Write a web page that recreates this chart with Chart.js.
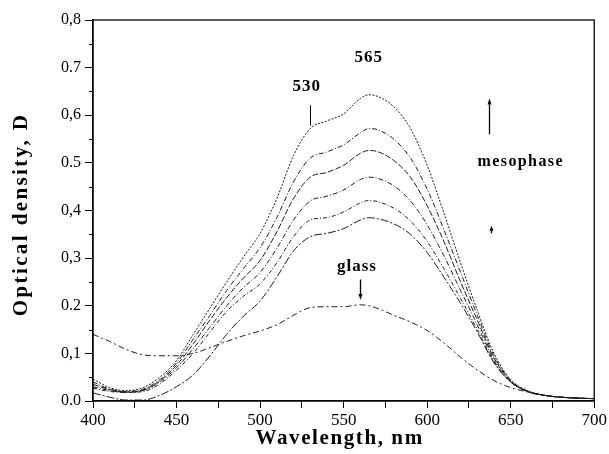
<!DOCTYPE html>
<html>
<head>
<meta charset="utf-8">
<script src="https://cdn.jsdelivr.net/npm/chart.js@4/dist/chart.umd.min.js"></script>
<style>
  html, body { margin: 0; padding: 0; background: #fff; }
  #wrap { width: 609px; height: 454px; }
</style>
</head>
<body>
<div id="wrap"><canvas id="spectra"></canvas></div>
<script>
const wavelengths = [400, 410, 420, 430, 440, 450, 460, 470, 480, 490, 500, 510, 520, 530, 540, 550,
  560, 565, 570, 580, 590, 600, 610, 620, 630, 640, 650, 660, 670, 680, 690, 700];

// mesophase spectra, highest to lowest
const meso1 = [0.046, 0.028, 0.022, 0.028, 0.05, 0.085, 0.14, 0.195, 0.25, 0.302, 0.352, 0.425, 0.515, 0.572, 0.588, 0.603,
  0.635, 0.643, 0.64, 0.618, 0.572, 0.495, 0.395, 0.29, 0.19, 0.1, 0.045, 0.022, 0.012, 0.008, 0.006, 0.005];
const meso2 = [0.04, 0.025, 0.02, 0.025, 0.045, 0.08, 0.13, 0.18, 0.232, 0.278, 0.322, 0.385, 0.46, 0.51, 0.523, 0.538,
  0.563, 0.572, 0.57, 0.55, 0.51, 0.445, 0.36, 0.27, 0.18, 0.095, 0.043, 0.021, 0.012, 0.008, 0.006, 0.005];
const meso3 = [0.035, 0.024, 0.019, 0.023, 0.042, 0.075, 0.12, 0.17, 0.217, 0.258, 0.295, 0.355, 0.425, 0.47, 0.48, 0.495,
  0.52, 0.526, 0.524, 0.505, 0.47, 0.41, 0.335, 0.25, 0.17, 0.09, 0.042, 0.02, 0.012, 0.008, 0.006, 0.005];
const meso4 = [0.03, 0.022, 0.018, 0.022, 0.04, 0.07, 0.11, 0.155, 0.2, 0.238, 0.27, 0.32, 0.38, 0.42, 0.43, 0.443,
  0.465, 0.47, 0.468, 0.452, 0.42, 0.37, 0.305, 0.232, 0.16, 0.085, 0.04, 0.02, 0.012, 0.008, 0.006, 0.005];
const meso5 = [0.027, 0.02, 0.018, 0.02, 0.036, 0.065, 0.1, 0.145, 0.188, 0.22, 0.246, 0.29, 0.345, 0.38, 0.385, 0.397,
  0.416, 0.421, 0.419, 0.405, 0.378, 0.335, 0.278, 0.215, 0.15, 0.082, 0.04, 0.02, 0.012, 0.008, 0.006, 0.005];
const meso6 = [0.017, 0.008, 0.002, 0.002, 0.012, 0.03, 0.055, 0.095, 0.14, 0.178, 0.21, 0.26, 0.315, 0.345, 0.352, 0.362,
  0.38, 0.385, 0.383, 0.372, 0.35, 0.312, 0.26, 0.205, 0.145, 0.08, 0.04, 0.02, 0.012, 0.008, 0.006, 0.005];
// glassy film
const glass = [0.14, 0.125, 0.108, 0.097, 0.095, 0.095, 0.1, 0.112, 0.125, 0.137, 0.147, 0.16, 0.18, 0.196, 0.198, 0.198,
  0.202, 0.2, 0.195, 0.18, 0.166, 0.148, 0.122, 0.092, 0.065, 0.043, 0.028, 0.019, 0.012, 0.008, 0.006, 0.005];

const yTickLabels = ["0.0", "0,1", "0.2", "0,3", "0,4", "0.5", "0,6", "0.7", "0,8"];
const xTickLabels = ["400", "450", "500", "550", "600", "650", "700"];

const serif = "'Liberation Serif', 'DejaVu Serif', serif";

function series(values, dash) {
  return {
    data: wavelengths.map((w, i) => ({ x: w, y: values[i] })),
    borderColor: "#1c1c1c",
    borderWidth: 1,
    borderDash: dash,
    pointRadius: 0,
    cubicInterpolationMode: "monotone",
    fill: false
  };
}

// frame, minor ticks, axis titles and the peak / phase labels
const extras = {
  id: "extras",
  afterDraw(chart) {
    const { ctx, chartArea: a, scales: { x, y } } = chart;
    ctx.save();
    ctx.strokeStyle = "#000";
    ctx.lineWidth = 1.3;
    ctx.strokeRect(a.left, a.top, a.right - a.left, a.bottom - a.top);

    // short ticks halfway between the labelled ones
    ctx.lineWidth = 1;
    for (let v = 0.05; v < 0.8; v += 0.1) {
      const py = Math.round(y.getPixelForValue(v)) + 0.5;
      ctx.beginPath();
      ctx.moveTo(a.left - 4, py);
      ctx.lineTo(a.left, py);
      ctx.stroke();
    }

    ctx.fillStyle = "#000";
    ctx.textAlign = "center";
    ctx.textBaseline = "middle";

    // axis titles, drawn wide like the printed originals
    ctx.font = "bold 21px " + serif;
    ctx.letterSpacing = "1.6px";
    ctx.fillText("Wavelength, nm", (a.left + a.right) / 2 - 4, 439);
    ctx.save();
    ctx.translate(22, (a.top + a.bottom) / 2 + 4);
    ctx.rotate(-Math.PI / 2);
    ctx.letterSpacing = "2.4px";
    ctx.fillText("Optical density, D", 0, 0);
    ctx.restore();

    ctx.font = "bold 17px " + serif;
    ctx.letterSpacing = "1px";
    ctx.fillText("530", x.getPixelForValue(528), y.getPixelForValue(0.66));
    ctx.fillText("565", x.getPixelForValue(565), y.getPixelForValue(0.722));
    ctx.fillText("glass", x.getPixelForValue(558), y.getPixelForValue(0.282));
    ctx.font = "bold 16px " + serif;
    ctx.letterSpacing = "1.4px";
    ctx.fillText("mesophase", x.getPixelForValue(656), y.getPixelForValue(0.503));
    ctx.letterSpacing = "0px";

    // marker under "530"
    ctx.lineWidth = 1;
    const m = Math.round(x.getPixelForValue(530)) + 0.5;
    ctx.beginPath();
    ctx.moveTo(m, y.getPixelForValue(0.621));
    ctx.lineTo(m, y.getPixelForValue(0.578));
    ctx.stroke();

    function arrow(px, y0, y1, head) {
      const dir = y1 < y0 ? 1 : -1;
      ctx.beginPath();
      ctx.moveTo(px, y0);
      ctx.lineTo(px, y1 + dir * head);
      ctx.stroke();
      ctx.beginPath();
      ctx.moveTo(px, y1);
      ctx.lineTo(px - 2, y1 + dir * head);
      ctx.lineTo(px + 2, y1 + dir * head);
      ctx.closePath();
      ctx.fill();
    }
    ctx.lineWidth = 1.3;
    const gx = Math.round(x.getPixelForValue(560)) + 0.5;
    arrow(gx, y.getPixelForValue(0.255), y.getPixelForValue(0.212), 6);
    const ux = Math.round(x.getPixelForValue(637)) + 0.5;
    arrow(ux, y.getPixelForValue(0.56), y.getPixelForValue(0.635), 6);
    const sx = Math.round(x.getPixelForValue(638.5)) + 0.5;
    arrow(sx, y.getPixelForValue(0.352), y.getPixelForValue(0.368), 5);
    ctx.restore();
  }
};

new Chart(document.getElementById("spectra"), {
  type: "line",
  data: {
    datasets: [
      series(meso1, [2, 1.5]),
      series(meso2, [5, 2, 1, 2]),
      series(meso3, [6, 2]),
      series(meso4, [5, 2, 1, 2]),
      series(meso5, [4, 2, 1, 2]),
      series(meso6, [8, 2, 2, 2]),
      series(glass, [6, 3, 2, 3])
    ]
  },
  options: {
    responsive: true,
    maintainAspectRatio: false,
    animation: false,
    events: [],
    layout: { padding: { top: 20, right: 14, left: 0, bottom: 0 } },
    plugins: { legend: { display: false }, tooltip: { enabled: false } },
    scales: {
      x: {
        type: "linear",
        min: 400,
        max: 700,
        afterFit: s => { s.height = 53; },
        border: { color: "#000", width: 1.3 },
        grid: { drawOnChartArea: false, drawTicks: true, tickLength: 7, color: "#000" },
        ticks: {
          stepSize: 25,
          maxRotation: 0,
          autoSkip: false,
          padding: 2,
          color: "#000",
          font: { family: serif, size: 17 },
          callback: v => (v % 50 === 0 ? xTickLabels[(v - 400) / 50] : "")
        }
      },
      y: {
        min: 0,
        max: 0.8,
        afterFit: s => { s.width = 93; },
        border: { color: "#000", width: 1.3 },
        grid: { drawOnChartArea: false, drawTicks: true, tickLength: 8, color: "#000" },
        ticks: {
          stepSize: 0.1,
          padding: 4,
          color: "#000",
          font: { family: serif, size: 16 },
          callback: (v) => yTickLabels[Math.round(v * 10)]
        }
      }
    }
  },
  plugins: [extras]
});
</script>
</body>
</html>
